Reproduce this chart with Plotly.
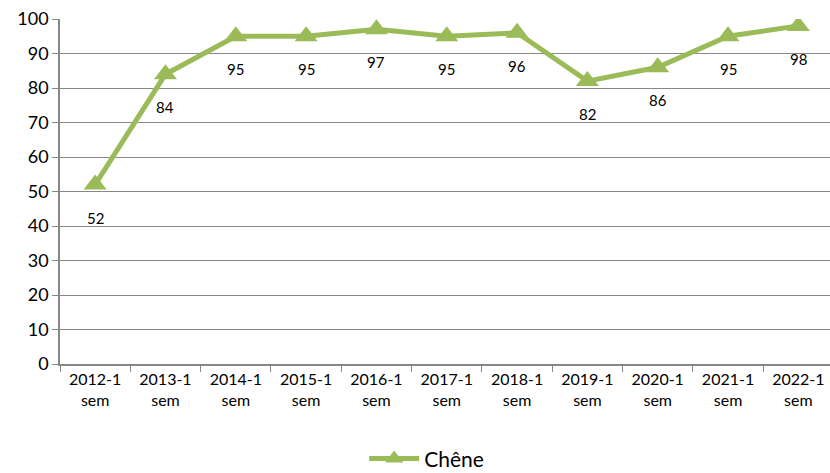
import plotly.graph_objects as go

categories = ["2012-1<br>sem", "2013-1<br>sem", "2014-1<br>sem", "2015-1<br>sem", "2016-1<br>sem",
              "2017-1<br>sem", "2018-1<br>sem", "2019-1<br>sem", "2020-1<br>sem", "2021-1<br>sem", "2022-1<br>sem"]
values = [52, 84, 95, 95, 97, 95, 96, 82, 86, 95, 98]
series_name = "Chêne"
y_ticks = list(range(0, 101, 10))

green = "#9BBB59"
grid = "#878787"
font_family = "Lato, Open Sans, sans-serif"

fig = go.Figure()
fig.add_trace(go.Scatter(
    x=categories, y=values, mode="lines+markers", name=series_name,
    line=dict(color=green, width=5),
    marker=dict(symbol="triangle-up", size=20, color=green),
))

for c, v in zip(categories, values):
    fig.add_annotation(x=c, y=v, text=str(v), showarrow=False, yshift=-33,
                       font=dict(size=15, color="#000000", family=font_family))

fig.update_layout(
    width=830, height=473,
    margin=dict(l=60, r=0, t=19, b=109, autoexpand=False),
    plot_bgcolor="white", paper_bgcolor="white",
    font=dict(family=font_family, color="#000000"),
    showlegend=True,
    legend=dict(orientation="h", x=0.395, xanchor="left", yref="container", y=0.03, yanchor="middle",
                font=dict(size=21, color="#000000"), itemwidth=50),
    xaxis=dict(
        type="category", showgrid=False, showline=True, linecolor=grid, linewidth=1.5,
        ticks="outside", tickson="boundaries", ticklen=6, tickcolor=grid, automargin=False,
        tickfont=dict(size=16, color="#000000"), range=[-0.5, 10.45],
    ),
    yaxis=dict(
        range=[0, 100], tickvals=y_ticks, showgrid=True, gridcolor=grid, gridwidth=1,
        showline=True, linecolor=grid, linewidth=1.5, ticks="outside", ticklen=6, automargin=False,
        tickcolor=grid, tickfont=dict(size=18, color="#000000"), zeroline=False,
    ),
)

fig.write_html("out.html", config={"displayModeBar": False},
               post_script="document.body.style.margin='0';document.body.style.overflow='hidden';")
